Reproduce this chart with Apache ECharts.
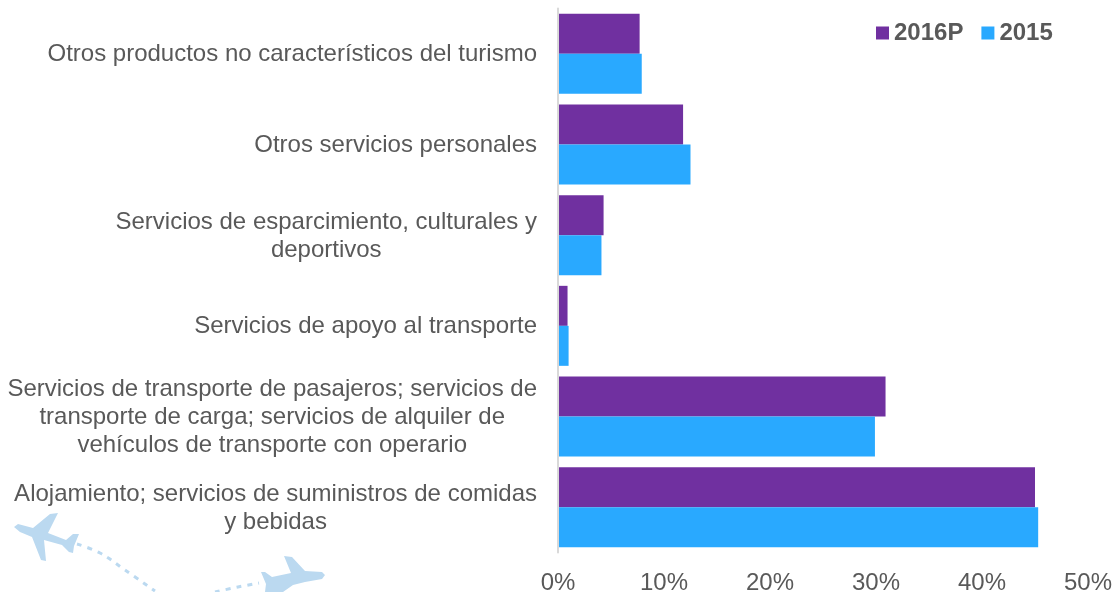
<!DOCTYPE html>
<html>
<head>
<meta charset="utf-8">
<style>
html,body{margin:0;padding:0;background:#fff;}
#chart{width:1119px;height:592px;}
</style>
<script src="https://cdn.jsdelivr.net/npm/echarts@6/dist/echarts.min.js"></script>
</head>
<body>
<div id="chart"></div>
<script>
var categories = [
	'Otros productos no característicos del turismo',
	'Otros servicios personales',
	'Servicios de esparcimiento, culturales y\ndeportivos',
	'Servicios de apoyo al transporte',
	'Servicios de transporte de pasajeros; servicios de\ntransporte de carga; servicios de alquiler de\nvehículos de transporte con operario',
	'Alojamiento; servicios de suministros de comidas\ny bebidas'
];
var values2016 = [7.7, 11.8, 4.3, 0.9, 30.9, 45.0];
var values2015 = [7.9, 12.5, 4.1, 1.0, 29.9, 45.3];
var seriesNames = ['2016P', '2015'];

var FONT = '"Liberation Sans", Arial, sans-serif';
var TEXT = '#595959';
var PLANE = '#BBD9F0';

function dashed(points) {
	return {
		type: 'polyline', silent: true, z: 0,
		shape: { points: points, smooth: 0.4 },
		style: { stroke: PLANE, lineWidth: 3, fill: null, lineDash: [5, 6] }
	};
}
function plane(points) {
	return {
		type: 'polygon', silent: true, z: 0,
		shape: { points: points },
		style: { fill: PLANE }
	};
}

var chart = echarts.init(document.getElementById('chart'), null, { renderer: 'canvas' });
chart.setOption({
	animation: false,
	textStyle: { fontFamily: FONT },
	grid: { left: 558, top: 8.5, width: 530, height: 544, containLabel: false, outerBoundsMode: 'none' },
	legend: {
		top: 16, left: 871,
		itemWidth: 13, itemHeight: 13, itemGap: 18,
		icon: 'rect',
		selectedMode: false,
		data: seriesNames,
		textStyle: { fontFamily: FONT, fontSize: 24, fontWeight: 'bold', color: TEXT }
	},
	xAxis: {
		type: 'value', min: 0, max: 50, interval: 10,
		axisLine: { show: false },
		axisTick: { show: false },
		splitLine: { show: false },
		axisLabel: {
			formatter: '{value}%', margin: 19,
			fontFamily: FONT, fontSize: 24, color: TEXT
		}
	},
	yAxis: {
		type: 'category', inverse: true, data: categories, z: 3,
		axisLine: { show: true, lineStyle: { color: '#D9D9D9', width: 2 } },
		axisTick: { show: false },
		axisLabel: {
			margin: 21, interval: 0, align: 'right', padding: [2, 0, 0, 0],
			formatter: function (v) {
				return v.split('\n').map(function (l) { return '{c|' + l + '}'; }).join('\n');
			},
			rich: {
				c: { align: 'center', fontFamily: FONT, fontSize: 24, color: TEXT, lineHeight: 28 }
			}
		}
	},
	series: [
		{ name: seriesNames[0], type: 'bar', data: values2016, barWidth: 40, barGap: 0, itemStyle: { color: '#7030A0' } },
		{ name: seriesNames[1], type: 'bar', data: values2015, barWidth: 40, barGap: 0, itemStyle: { color: '#29A9FF' } }
	],
	graphic: [
		plane([[14,527],[18,524],[33,528],[50,514],[58,513],[48,533],[66,540],[73,534],[79,534],[74,546],[73,553],[69,552],[62,545],[44,540],[46,561],[41,560],[32,537],[20,532]]),
		plane([[325,575],[322,572],[305,571],[292,557],[284,556],[291,573],[272,577],[265,572],[261,572],[266,584],[265,592],[283,592],[293,585],[305,582],[322,579]]),
		dashed([[77,544],[100,553],[125,570],[155,591]]),
		dashed([[215,592],[238,587],[259,583]])
	]
});
</script>
</body>
</html>
